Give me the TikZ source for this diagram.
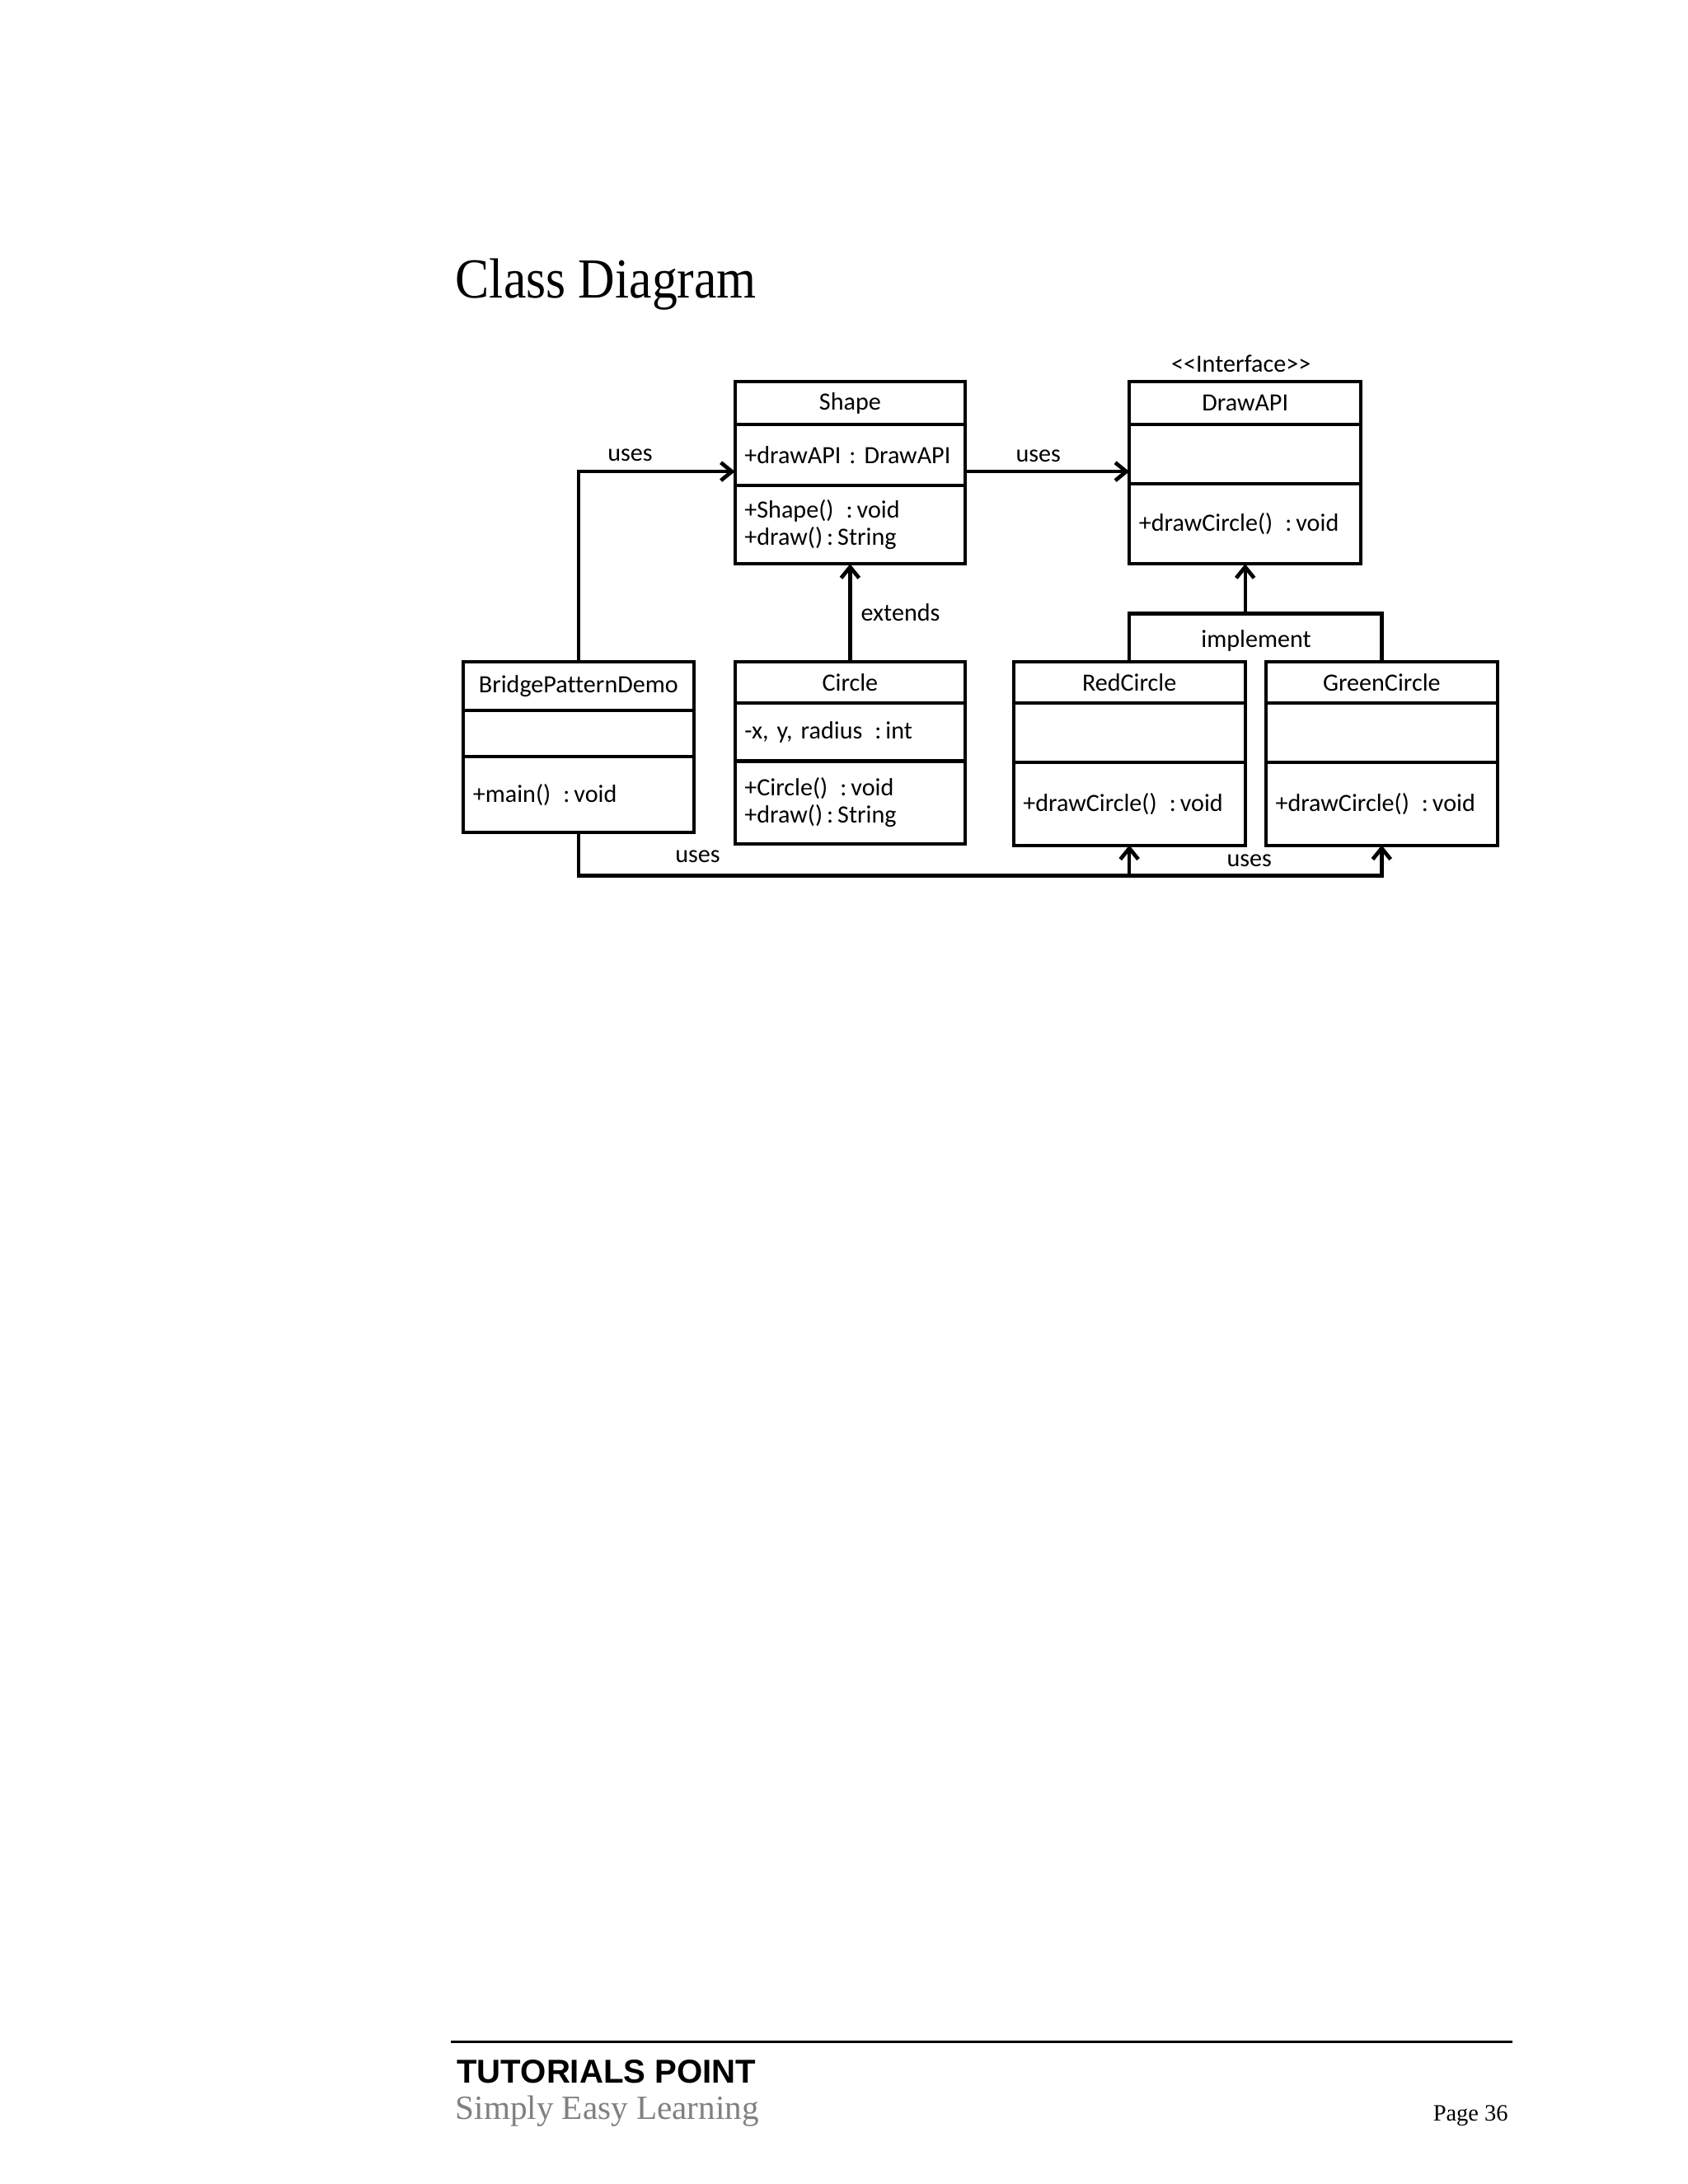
\documentclass[tikz,border=0pt]{standalone}
\usepackage{fontspec}
\setmainfont{Liberation Serif}
\newfontfamily\carlito{Carlito}[Ligatures=NoCommon]
\newfontfamily\arialf{Liberation Sans}
\usetikzlibrary{arrows.meta,calc}
\newcommand{\cl}{\enspace:\,}
\begin{document}
\begin{tikzpicture}[x=0.5pt,y=-0.5pt,
  comp/.style={draw, line width=1.2pt, outer sep=0pt, inner xsep=3.5pt, inner ysep=0pt, anchor=north west, font=\carlito\fontsize{9}{11}\selectfont},
  head/.style={comp, align=center},
  body/.style={comp, align=left},
  lbl/.style={font=\carlito\fontsize{9}{11}\selectfont, inner sep=0pt},
  conn/.style={line width=1.3pt},
  arr/.style={conn, -{Straight Barb[length=4pt,width=6.5pt,line width=1.4pt]}}]
\fill[white] (0,0) rectangle (1224,1584);
\useasboundingbox (0,0) rectangle (1224,1584);
% title
\node[anchor=base west, inner sep=0pt, font=\fontsize{20.5}{24}\selectfont] (title) at (330,216) {\scalebox{0.9}[1]{Class Diagram}};
% Shape
\node[head, minimum width=83.5pt, text width=76.5pt, minimum height=15.5pt] (shapeH) at (533,277) {Shape};
\node[body, minimum width=83.5pt, text width=76.5pt, minimum height=22pt] (shapeA) at (shapeH.south west) {+drawAPI : DrawAPI};
\node[body, minimum width=83.5pt, text width=76.5pt, minimum height=28.5pt] (shapeM) at (shapeA.south west) {+Shape()\cl void\\[-1pt]+draw()\,:\,String};
% DrawAPI
\node[lbl] (iface) at (900,264) {<{}<Interface>{}>};
\node[head, minimum width=84pt, text width=77pt, minimum height=15.5pt] (drH) at (819,277) {DrawAPI};
\node[body, minimum width=84pt, text width=77pt, minimum height=21.5pt] (drA) at (drH.south west) {};
\node[body, minimum width=84pt, text width=77pt, minimum height=29pt] (drM) at (drA.south west) {+drawCircle()\cl void};
% BridgePatternDemo
\node[head, minimum width=83.5pt, text width=76.5pt, minimum height=17.5pt] (bpdH) at (336,480) {BridgePatternDemo};
\node[body, minimum width=83.5pt, text width=76.5pt, minimum height=17pt] (bpdA) at (bpdH.south west) {};
\node[body, minimum width=83.5pt, text width=76.5pt, minimum height=27.5pt] (bpdM) at (bpdA.south west) {+main()\cl void};
% Circle
\node[head, minimum width=83.5pt, text width=76.5pt, minimum height=15pt] (circH) at (533,480) {Circle};
\node[body, minimum width=83.5pt, text width=76.5pt, minimum height=21pt] (circA) at (circH.south west) {-x, y, radius\cl int};
\node[body, minimum width=83.5pt, text width=76.5pt, minimum height=30pt] (circM) at (circA.south west) {+Circle()\cl void\\[-1pt]+draw()\,:\,String};
% RedCircle
\node[head, minimum width=84pt, text width=77pt, minimum height=15pt] (redH) at (735,480) {RedCircle};
\node[body, minimum width=84pt, text width=77pt, minimum height=21.5pt] (redA) at (redH.south west) {};
\node[body, minimum width=84pt, text width=77pt, minimum height=30pt] (redM) at (redA.south west) {+drawCircle()\cl void};
% GreenCircle
\node[head, minimum width=84pt, text width=77pt, minimum height=15pt] (greenH) at (918,480) {GreenCircle};
\node[body, minimum width=84pt, text width=77pt, minimum height=21.5pt] (greenA) at (greenH.south west) {};
\node[body, minimum width=84pt, text width=77pt, minimum height=30pt] (greenM) at (greenA.south west) {+drawCircle()\cl void};
% connectors
\coordinate (imp) at (903,445);
\coordinate (bot) at (0,635);
\draw[arr] (bpdH.north) |- ([yshift=5pt]shapeA.south west);
\draw[arr] ([yshift=5pt]shapeA.south east) -- ([yshift=5pt]shapeA.south east -| drA.west);
\draw[arr] (circH.north) -- (shapeM.south);
\draw[conn] (redH.north) |- (imp) -| (greenH.north);
\draw[arr] (imp) -- (imp |- drM.south);
\draw[arr] (bpdM.south) |- (redM.south |- bot) -- (redM.south);
\draw[arr] (redM.south |- bot) -| (greenM.south);
% labels
\node[lbl] (l1) at (457,330) {uses};
\node[lbl] (l2) at (753,331) {uses};
\node[lbl] (l3) at (653,444) {extends};
\node[lbl] (l4) at (911,465) {implement};
\node[lbl] (l5) at (506,621) {uses};
\node[lbl] (l6) at (906,624) {uses};
% footer
\draw[line width=0.8pt] (327,1481) -- (1097,1481);
\node[anchor=base west, inner sep=0pt, font=\arialf\bfseries\fontsize{12}{14}\selectfont] (tp) at (331,1511) {TUTORIALS POINT};
\node[anchor=base west, inner sep=0pt, text=black!50, font=\fontsize{12.3}{14}\selectfont] (sel) at (330,1537) {Simply Easy Learning};
\node[anchor=base east, inner sep=0pt, font=\fontsize{8.5}{10}\selectfont] (pg) at (1094,1538) {Page 36};
\end{tikzpicture}
\end{document}
